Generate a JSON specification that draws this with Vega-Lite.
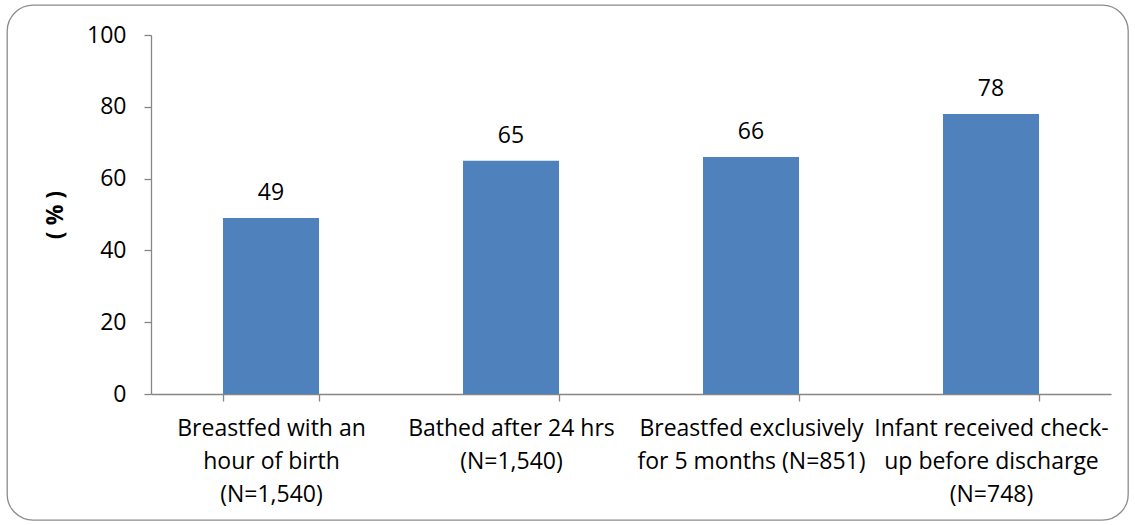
{
  "$schema": "https://vega.github.io/schema/vega-lite/v6.json",
  "width": 1121,
  "height": 515,
  "padding": {"left": 7, "top": 5, "right": 7, "bottom": 5},
  "autosize": {"type": "none"},
  "background": "white",
  "config": {
    "view": {"stroke": "#8c8c8c", "strokeWidth": 1.3, "cornerRadius": 26, "fill": "white"},
    "font": "Open Sans",
    "axis": {"labelFont": "Open Sans", "titleFont": "Open Sans", "labelColor": "#000000", "titleColor": "#000000"}
  },
  "data": {
    "values": [
      {"category": "Breastfed with an|hour of birth|(N=1,540)", "pct": 49},
      {"category": "Bathed after 24 hrs|(N=1,540)", "pct": 65},
      {"category": "Breastfed exclusively|for 5 months (N=851)", "pct": 66},
      {"category": "Infant received check-|up before discharge|(N=748)", "pct": 78}
    ]
  },
  "encoding": {
    "x": {
      "field": "category",
      "type": "nominal",
      "sort": null,
      "scale": {"range": [144, 1104], "paddingInner": 0.6, "paddingOuter": 0.3},
      "axis": {
        "title": null,
        "offset": -126,
        "labelAngle": 0,
        "labelFontSize": 23,
        "labelLineHeight": 33,
        "labelPadding": 16,
        "labelLimit": 400,
        "labelExpr": "split(datum.label, '|')",
        "tickBand": "extent",
        "tickSize": 7,
        "tickColor": "#868686",
        "domainColor": "#868686",
        "domainWidth": 1.3,
        "tickWidth": 1.3
      }
    },
    "y": {
      "field": "pct",
      "type": "quantitative",
      "scale": {"domain": [0, 100], "range": [389, 30], "nice": false},
      "axis": {
        "title": "(  %  )",
        "titleFontWeight": "bold",
        "titleFontSize": 23,
        "titlePadding": 19,
        "offset": -144,
        "values": [0, 20, 40, 60, 80, 100],
        "labelFontSize": 23,
        "labelPadding": 18,
        "tickSize": 7,
        "tickColor": "#868686",
        "domainColor": "#868686",
        "domainWidth": 1.3,
        "tickWidth": 1.3,
        "grid": false
      }
    }
  },
  "layer": [
    {"mark": {"type": "bar", "color": "#4F81BD"}},
    {
      "mark": {"type": "text", "fontSize": 23, "font": "Open Sans", "color": "#000000", "baseline": "alphabetic", "dy": -18},
      "encoding": {"text": {"field": "pct", "type": "quantitative"}}
    }
  ]
}
